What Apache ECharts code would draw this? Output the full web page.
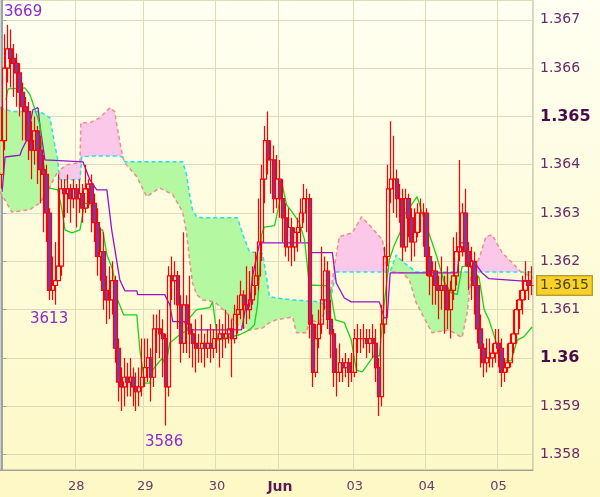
<!DOCTYPE html>
<html><head><meta charset="utf-8">
<script src="https://cdn.jsdelivr.net/npm/echarts@6/dist/echarts.min.js"></script>
<style>html,body{margin:0;padding:0;}#c{width:600px;height:497px;}</style>
</head><body><div id="c"></div>
<script>
// prices as the last digits after 1.3 (e.g. 645 -> 1.3645)
const BASE = 1.30;
const opens = [638,645,660,664,662,661,659,655,652,651,
645,643,647,643,639,638,630,614,615,616,
619,635,634,635,633,635,633,634,631,635,
636,632,628,621,622,614,612,612,616,602,
595,594,596,595,596,594,593,594,596,598,
600,596,606,606,605,604,594,617,616,617,
611,603,611,607,605,603,602,602,603,602,
603,602,604,604,605,604,605,606,604,609,
610,613,611,610,612,615,617,624,637,645,
641,641,633,637,633,629,623,627,623,626,
627,630,633,633,607,597,604,607,612,618,
608,605,597,597,599,598,599,597,597,604,
604,604,604,603,604,603,598,592,607,621,
635,637,637,633,633,623,633,629,624,626,
630,630,630,621,617,618,615,614,615,614,
610,614,617,622,623,630,622,619,620,615,
606,602,599,600,600,601,603,602,597,598,
599,603,605,610,612,614,616,615];
const closes = [645,660,664,662,661,659,655,652,651,645,
643,647,643,639,638,630,614,615,616,619,
635,634,635,633,635,633,634,631,635,636,
632,628,621,622,614,612,612,616,602,595,
594,596,595,596,594,593,594,596,598,600,
596,606,606,605,604,594,617,616,617,611,
603,611,607,605,603,602,602,603,602,603,
602,604,604,605,604,605,606,604,609,610,
613,611,610,612,615,617,624,637,645,641,
641,633,637,633,629,623,627,623,626,627,
630,633,633,607,597,604,607,612,618,608,
605,597,597,599,598,599,597,597,604,604,
604,604,603,604,603,598,592,607,621,635,
637,637,633,633,623,633,629,624,626,630,
630,630,621,617,618,615,614,615,614,610,
614,617,622,623,630,622,619,620,615,606,
602,599,600,600,601,603,602,597,598,599,
603,605,610,612,614,616,615,615];
const highs = [652,667,669,668,665,663,661,657,654,653,
649,650,648,646,642,640,631,621,624,638,
637,637,638,636,637,636,637,636,640,637,
638,634,631,627,626,617,619,620,617,604,
598,600,599,600,598,597,598,604,604,604,
602,609,609,610,608,605,619,621,620,618,
613,626,613,617,606,608,605,609,605,606,
607,606,607,608,607,610,609,608,611,613,
616,614,619,618,619,622,633,640,648,651,
645,644,642,641,637,632,631,629,627,629,
633,636,635,634,609,607,610,623,621,620,
612,606,602,603,600,601,600,601,606,607,
606,607,606,606,607,606,600,611,623,640,
649,646,639,636,635,635,634,631,631,632,
633,632,631,623,620,620,617,621,617,619,
616,625,626,641,632,635,624,623,622,617,
609,603,604,604,603,606,606,604,600,603,
605,610,612,614,617,620,618,619];
const lows = [635,643,657,656,654,652,650,645,645,641,
637,640,636,632,626,624,612,612,611,616,
617,629,630,628,631,627,630,628,630,631,
626,624,617,616,610,607,608,609,599,591,
589,590,592,592,590,589,590,592,594,595,
591,594,601,600,596,586,592,612,611,606,
599,601,601,600,598,597,599,599,598,600,
599,600,601,598,600,602,603,596,603,605,
608,606,607,608,611,613,614,620,632,638,
634,630,631,629,624,621,620,619,620,622,
624,628,626,604,594,596,602,605,610,606,
600,594,592,595,595,596,594,595,596,601,
601,602,600,601,600,595,588,590,605,619,
632,630,629,628,620,622,625,620,621,625,
626,623,617,613,611,611,608,610,605,606,
604,612,615,620,621,619,614,612,609,603,
598,596,597,598,598,599,598,594,595,597,
598,601,603,606,609,612,612,613];
const dayLabels = {25:'28',48:'29',72:'30',93:'Jun',118:'03',142:'04',166:'05'};
const cloudX = [-0.5,3.5,9.5,12.8,16.2,17.8,18.8,19.2,19.5,21.8,26.2,26.5,26.8,29.5,32.8,36.2,37.8,38.8,40.5,41.2,45.2,48.5,52.8,57.2,60.5,61.8,62.8,63.8,65.2,67.2,71.2,75.2,78.8,81.2,82.8,87.2,89.5,91.8,97.2,98.5,101.8,102.8,106.2,107.8,109.2,110.5,111.8,112.8,117.2,120.2,123.5,127.2,128.8,129.8,131.8,133.8,136.2,138.5,143.8,149.5,153.8,155.5,156.8,157.8,158.5,161.8,163.8,167.2,171.8,173.5,176.8,177.5];
const spanA = [651.8,651.0,651.0,651.0,649.7,644.1,641.0,638.0,636.9,636.9,636.9,636.9,641.6,641.8,641.8,641.8,641.8,641.8,641.6,640.6,640.6,640.6,640.6,640.6,640.6,637.9,633.8,630.7,629.2,629.0,629.0,629.0,629.0,624.5,622.0,621.6,612.7,612.4,612.0,612.0,611.8,611.8,611.6,611.0,610.0,614.1,617.8,617.8,617.8,617.8,617.8,617.8,617.8,617.8,621.3,620.0,618.9,617.8,617.8,617.8,617.8,617.8,617.8,617.8,617.8,617.8,617.8,617.8,617.8,617.8,617.8,617.8];
const spanB = [634.4,630.2,630.7,632.1,635.4,637.5,638.5,638.0,638.9,640.0,640.4,648.7,648.7,648.7,649.7,651.8,651.0,647.2,641.6,640.4,637.5,633.4,635.2,633.8,630.2,625.9,620.3,615.5,613.1,612.0,611.6,609.3,606.9,606.2,605.8,606.2,607.3,607.9,608.5,605.2,605.2,607.9,607.3,609.3,610.0,616.2,621.3,625.1,625.9,629.2,627.1,624.5,618.2,617.8,617.8,617.6,616.2,611.4,605.2,605.8,604.2,609.3,616.8,617.8,618.7,625.1,625.5,621.8,618.9,617.8,616.8,616.6];
const kijunX = [0.2,1.2,6.2,6.8,8.5,10.5,12.2,12.8,14.5,27.2,29.5,31.8,35.2,36.8,39.5,41.2,45.2,45.5,54.5,56.2,57.2,61.2,62.2,80.2,81.5,82.8,83.8,86.2,102.8,103.5,110.5,111.8,114.5,116.8,126.2,127.8,128.8,129.8,152.2,153.2,154.8,156.2,158.5,160.5,162.8,176.8];
const kijunV = [634.4,641.6,642.0,643.1,645.2,651.4,651.8,648.3,641.0,640.6,636.9,634.8,634.8,626.5,616.2,613.9,613.9,613.1,613.1,611.0,607.5,607.5,605.8,605.8,610.4,610.6,616.8,623.8,623.8,621.8,621.8,615.5,612.4,611.6,611.6,608.3,608.3,617.6,617.6,623.8,623.8,620.7,619.3,617.6,616.4,615.8];
const tenkanX = [1.5,2.2,7.8,9.5,11.2,12.8,13.8,15.5,18.8,20.2,21.2,23.5,26.2,27.8,31.2,32.2,33.8,35.2,37.2,38.8,40.8,45.2,46.2,47.8,49.5,50.5,51.8,53.8,54.8,56.2,59.5,62.2,62.8,65.2,69.5,70.5,72.2,79.5,82.8,84.5,85.5,86.2,86.8,87.8,91.2,92.5,93.8,95.2,96.5,99.5,101.2,102.8,109.5,111.5,114.5,116.8,118.5,120.5,124.5,126.2,127.8,129.5,131.2,133.5,134.5,138.8,141.2,145.2,147.8,150.2,152.2,153.8,156.2,159.5,161.2,162.8,165.5,167.8,170.2,172.2,174.5,177.2];
const tenkanV = [653.4,655.7,655.9,654.5,651.4,648.3,641.0,635.2,634.8,630.7,626.5,625.9,626.5,632.1,631.3,626.5,626.5,621.3,618.2,612.0,608.9,608.9,601.7,594.8,594.8,597.5,598.6,600.0,598.2,603.1,604.8,605.8,608.3,610.0,610.4,611.6,603.7,604.8,605.8,606.9,611.0,618.2,625.5,627.1,627.4,631.1,635.8,631.7,630.7,628.0,624.5,615.1,614.9,607.9,607.3,603.7,597.5,597.1,600.6,600.4,611.0,620.3,623.4,626.5,629.6,633.4,628.6,621.3,615.8,613.5,613.1,618.9,619.1,616.6,610.0,607.9,602.7,599.4,599.4,603.7,604.4,606.4];
const lastPrice = 1.3615;

const px = p => +(BASE + p/10000).toFixed(5);
const N = closes.length;
const cats = closes.map((_, i) => dayLabels[i] || '');
const candles = closes.map((c, i) => [px(opens[i]), px(c), px(lows[i]), px(highs[i])]);
const pairs = (xs, vs) => xs.map((x, i) => [x, px(vs[i])]);
const showLbl = (i) => !!dayLabels[i];

function cloudPoly(api, aboveIsA) {
  const top = [], bot = [];
  cloudX.forEach((x, i) => {
    const a = spanA[i], b = spanB[i];
    const on = aboveIsA ? a >= b : b >= a;
    const t = on ? (aboveIsA ? a : b) : (aboveIsA ? b : a);
    const d = on ? (aboveIsA ? b : a) : t;
    top.push(api.coord([x, px(t)]));
    bot.push(api.coord([x, px(d)]));
  });
  return top.concat(bot.reverse());
}
const cloudSeries = (aboveIsA, color) => ({
  type: 'custom', xAxisIndex: 1, data: [[0, 1.36]], z: 1, silent: true,
  renderItem: (params, api) => ({type: 'polygon', shape: {points: cloudPoly(api, aboveIsA)}, style: {fill: color, stroke: 'none'}})
});

const chart = echarts.init(document.getElementById('c'));
chart.setOption({
  animation: false,
  backgroundColor: {type:'linear',x:0,y:0,x2:0,y2:1,colorStops:[{offset:0,color:'#fffff2'},{offset:1,color:'#fdf8c4'}]},
  grid: {left: 0, right: 67, top: 0, bottom: 27, show: true, borderColor: '#a8a8a0', borderWidth: 1, backgroundColor: 'transparent'},
  xAxis: [{
    type: 'category', data: cats, boundaryGap: true,
    axisLine: {lineStyle: {color: '#a0a0a0'}},
    axisTick: {show: false},
    axisLabel: {interval: (i) => showLbl(i), color: '#6a3a6a', fontSize: 13, fontFamily: 'DejaVu Sans', margin: 10,
      formatter: v => v === 'Jun' ? '{b|Jun}' : v, rich: {b: {fontWeight: 'bold', fontSize: 14, color: '#5a1a5a', fontFamily: 'DejaVu Sans'}}},
    splitLine: {show: true, interval: (i) => showLbl(i), lineStyle: {color: '#dcdcb8'}}
  }, {
    type: 'value', min: -0.5, max: N - 0.5, show: false
  }],
  yAxis: {
    type: 'value', position: 'right', min: 1.35768, max: 1.36741, splitNumber: 10,
    axisLine: {show: true, lineStyle: {color: '#9aa4ac', width: 2}},
    axisTick: {show: true, length: 5, lineStyle: {color: '#9aa4ac'}},
    splitLine: {lineStyle: {color: '#dcdcb8'}},
    axisLabel: {margin: 7, fontFamily: 'DejaVu Sans', showMinLabel: false, showMaxLabel: false,
      formatter: v => { const s = String(+v.toFixed(3)); return (s === '1.365' || s === '1.36') ? '{b|' + s + '}' : '{n|' + s + '}'; },
      rich: {n: {fontSize: 14, color: '#6a2a6a'}, b: {fontSize: 16, fontWeight: 'bold', color: '#4a0a4a'}}}
  },
  series: [
    cloudSeries(true, '#b4f8a2'),
    cloudSeries(false, '#fcc8ea'),
    {type: 'line', xAxisIndex: 1, data: pairs(cloudX, spanA), showSymbol: false, lineStyle: {color: '#22e0f0', width: 1.5, type: [4, 3]}, z: 2},
    {type: 'line', xAxisIndex: 1, data: pairs(cloudX, spanB), showSymbol: false, lineStyle: {color: '#f08c8c', width: 1.5, type: [4, 3]}, z: 2},
    {type: 'line', xAxisIndex: 1, data: pairs(kijunX, kijunV), showSymbol: false, lineStyle: {color: '#9a10cc', width: 1.3}, z: 3},
    {type: 'line', xAxisIndex: 1, data: pairs(tenkanX, tenkanV), showSymbol: false, lineStyle: {color: '#16d416', width: 1.3}, z: 3},
    {type: 'candlestick', xAxisIndex: 0, data: candles, barWidth: 4, z: 5,
      itemStyle: {color: 'rgba(0,0,0,0)', color0: '#7a3aa8', borderColor: '#ff0000', borderColor0: '#ff0000', borderWidth: 1.2}},
    {type: 'scatter', xAxisIndex: 1, data: [[N - 0.5, lastPrice]], symbolSize: 0, clip: false, z: 10, silent: true,
      label: {show: true, position: 'right', distance: 4, formatter: '1.3615', color: '#222', fontSize: 14, fontFamily: 'DejaVu Sans',
        backgroundColor: '#f6c800', borderColor: '#a08020', borderWidth: 1, padding: [3, 3, 2, 3]}}
  ],
  graphic: [
    {type: 'text', left: 4, top: 5, z: 100, style: {text: '3669', fill: '#8a2ad0', font: '15px DejaVu Sans'}},
    {type: 'text', left: 30, top: 312, z: 100, style: {text: '3613', fill: '#8a2ad0', font: '15px DejaVu Sans'}},
    {type: 'text', left: 145, top: 435, z: 100, style: {text: '3586', fill: '#8a2ad0', font: '15px DejaVu Sans'}}
  ]
});
</script></body></html>
